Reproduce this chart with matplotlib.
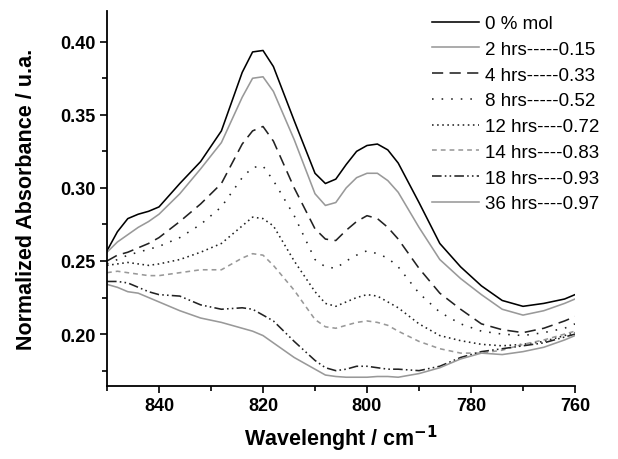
import matplotlib
matplotlib.use("Agg")
import matplotlib.pyplot as plt

plt.rcParams['font.family'] = ['Liberation Sans', 'DejaVu Sans']

# wavenumber grid (cm-1) and normalized absorbance
wavenumber = [850, 848, 846, 844, 842, 840, 836, 832, 828, 824, 822, 820, 818, 814,
              810, 808, 806, 804, 802, 800, 798, 796, 794, 790, 786, 782, 778, 774,
              770, 766, 762, 760]

abs_0 = [0.257, 0.270, 0.279, 0.282, 0.284, 0.287, 0.303, 0.318, 0.339, 0.379, 0.393, 0.394,
         0.383, 0.346, 0.310, 0.303, 0.306, 0.316, 0.325, 0.329, 0.330, 0.326, 0.317, 0.290,
         0.262, 0.246, 0.233, 0.223, 0.219, 0.221, 0.224, 0.227]
abs_2h = [0.256, 0.263, 0.268, 0.273, 0.277, 0.282, 0.296, 0.313, 0.331, 0.362, 0.375, 0.376,
          0.366, 0.333, 0.296, 0.288, 0.290, 0.300, 0.307, 0.310, 0.310, 0.305, 0.297, 0.273,
          0.251, 0.238, 0.227, 0.217, 0.213, 0.216, 0.221, 0.224]
abs_4h = [0.250, 0.254, 0.256, 0.259, 0.262, 0.266, 0.277, 0.289, 0.303, 0.330, 0.339, 0.342,
          0.332, 0.300, 0.272, 0.265, 0.264, 0.271, 0.277, 0.281, 0.279, 0.273, 0.265, 0.245,
          0.228, 0.217, 0.207, 0.203, 0.201, 0.204, 0.209, 0.212]
abs_8h = [0.248, 0.251, 0.254, 0.256, 0.258, 0.260, 0.266, 0.275, 0.287, 0.307, 0.314, 0.315,
          0.305, 0.281, 0.251, 0.246, 0.245, 0.250, 0.254, 0.257, 0.255, 0.252, 0.246, 0.228,
          0.215, 0.207, 0.202, 0.200, 0.199, 0.201, 0.204, 0.207]
abs_12h = [0.247, 0.248, 0.249, 0.248, 0.247, 0.248, 0.251, 0.256, 0.262, 0.274, 0.280, 0.279,
           0.274, 0.250, 0.229, 0.221, 0.219, 0.222, 0.225, 0.227, 0.226, 0.222, 0.218, 0.207,
           0.199, 0.1955, 0.193, 0.192, 0.193, 0.195, 0.199, 0.201]
abs_14h = [0.242, 0.243, 0.242, 0.241, 0.240, 0.240, 0.242, 0.244, 0.244, 0.252, 0.255, 0.254,
           0.247, 0.230, 0.210, 0.205, 0.204, 0.206, 0.208, 0.209, 0.208, 0.206, 0.202, 0.195,
           0.190, 0.187, 0.187, 0.189, 0.193, 0.196, 0.200, 0.202]
abs_18h = [0.236, 0.236, 0.235, 0.232, 0.229, 0.227, 0.226, 0.220, 0.217, 0.218, 0.217, 0.213,
           0.209, 0.195, 0.182, 0.177, 0.175, 0.176, 0.178, 0.178, 0.177, 0.176, 0.176, 0.175,
           0.178, 0.184, 0.188, 0.190, 0.192, 0.194, 0.198, 0.200]
abs_36h = [0.234, 0.232, 0.229, 0.228, 0.225, 0.222, 0.216, 0.211, 0.208, 0.204, 0.202, 0.199,
           0.194, 0.184, 0.176, 0.172, 0.171, 0.1705, 0.1705, 0.1705, 0.171, 0.171, 0.1705, 0.173,
           0.177, 0.183, 0.187, 0.186, 0.188, 0.191, 0.196, 0.199]

labels = ['0 % mol', '2 hrs-----0.15', '4 hrs-----0.33', '8 hrs-----0.52',
          '12 hrs----0.72', '14 hrs----0.83', '18 hrs----0.93', '36 hrs----0.97']

series = [abs_0, abs_2h, abs_4h, abs_8h, abs_12h, abs_14h, abs_18h, abs_36h]

gray = '#999999'
styles = [
    dict(color='black', ls='-'),
    dict(color=gray, ls='-'),
    dict(color='#222222', ls=(0, (7, 4))),
    dict(color='#222222', ls=(0, (1, 5))),
    dict(color='#222222', ls=(0, (1, 2.2))),
    dict(color=gray, ls=(0, (3, 2.5))),
    dict(color='#222222', ls=(0, (6, 2, 1, 2, 1, 2))),
    dict(color=gray, ls='-'),
]

fig = plt.figure(figsize=(6.18, 4.60), dpi=100)
ax = fig.add_axes([107 / 618, 1 - 387 / 460, 468 / 618, 375 / 460])

for y, lab, st in zip(series, labels, styles):
    ax.plot(wavenumber, y, lw=1.15, label=lab, **st)

ax.set_xlim(850, 760)
ax.set_ylim(0.1645, 0.421)
ax.set_xticks([840, 820, 800, 780, 760])
ax.set_xticks([850, 830, 810, 790, 770], minor=True)
ax.set_yticks([0.20, 0.25, 0.30, 0.35, 0.40])
ax.set_yticks([0.175, 0.225, 0.275, 0.325, 0.375], minor=True)
ax.set_yticklabels(['0.20', '0.25', '0.30', '0.35', '0.40'])

for s in ['top', 'right']:
    ax.spines[s].set_visible(False)
for s in ['left', 'bottom']:
    ax.spines[s].set_linewidth(1.3)

ax.tick_params(which='major', direction='out', length=5, width=1.2, labelsize=13, pad=3)
ax.tick_params(which='minor', direction='out', length=3.5, width=1.2)
for t in ax.get_xticklabels() + ax.get_yticklabels():
    t.set_fontweight('bold')

ax.set_xlabel('Wavelenght / cm$^{\\mathbf{-1}}$', fontsize=15.5, fontweight='bold', labelpad=6)
ax.set_ylabel('Normalized Absorbance / u.a.', fontsize=15.5, fontweight='bold', labelpad=17)

ax.legend(loc='upper left', bbox_to_anchor=(432 / 618, 1 - 16 / 460),
          bbox_transform=fig.transFigure, frameon=False, fontsize=13.5,
          handlelength=2.5, handletextpad=0.35, labelspacing=0.46,
          borderpad=0, borderaxespad=0)

fig.savefig('out.png', dpi=100)
